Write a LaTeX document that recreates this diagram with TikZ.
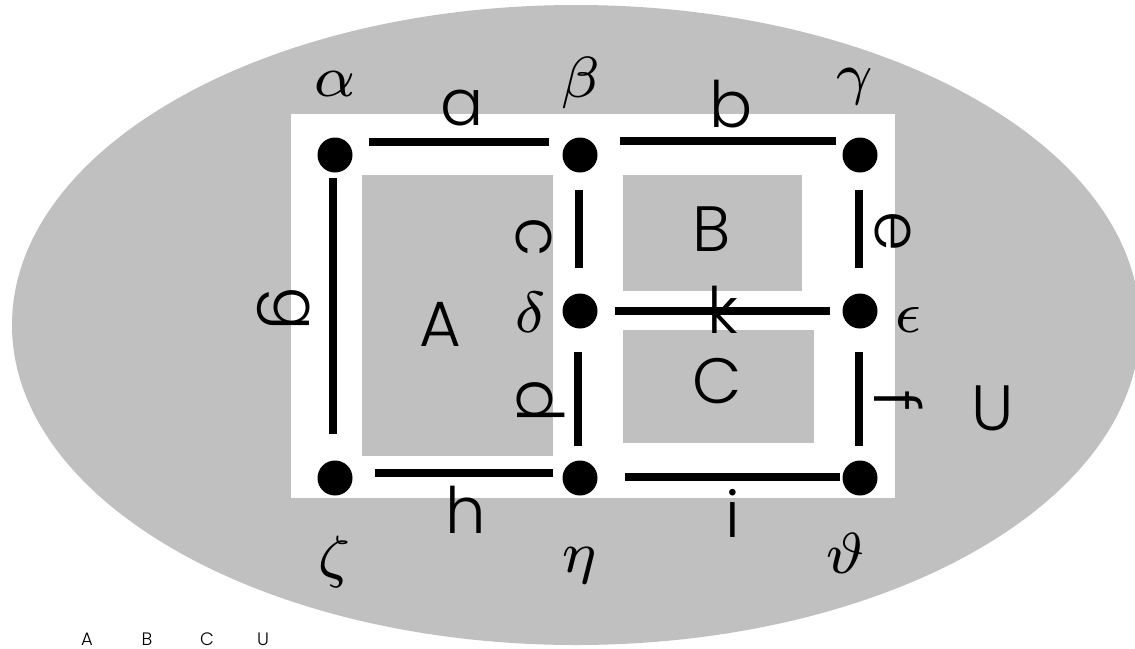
\RequirePackage{fix-cm}
\documentclass[tikz,border=0pt]{standalone}
\usepackage{fontspec}
\setmainfont{Poppins}[UprightFont=* Light]
\usepackage{xcolor}
\usepackage{tikz}
\DeclareFontShape{OML}{cmm}{m}{it}{<->cmmi7}{}
\definecolor{regiongray}{RGB}{192,192,192}
\tikzset{
  px/.style={x=1pt, y=-1pt},
  v dot/.style={circle, fill=black, inner sep=0pt, minimum size=35pt},
  v edge/.style={line width=7.5pt},
  v lbl/.style={inner sep=0pt, font=\fontsize{64}{70}\selectfont},
  v side/.style={v lbl, rotate=-90},
  v greek/.style={inner sep=0pt, font=\fontsize{58}{62}\selectfont},
  v face/.style={fill=regiongray},
  v key/.style={inner sep=0pt, font=\fontsize{18}{20}\selectfont},
}

\begin{document}
\begin{tikzpicture}[px]
\useasboundingbox (0,0) rectangle (1135,648);
% ---- outer region U ----
\fill[regiongray] (576,325) ellipse [x radius=564, y radius=320];
\fill[white] (291,114) rectangle (895,498);
% ---- faces ----
\fill[v face] (362,175) rectangle (553,456);
\fill[v face] (623,175) rectangle (802,291);
\fill[v face] (623,330) rectangle (814,443);
\node[v lbl] (fA) at (440,324) {A};
\node[v lbl] (fB) at (712,229) {B};
\node[v lbl] (fC) at (717,381) {C};
\node[v lbl] (fU) at (993,408) {U};
% ---- vertices ----
\node[v dot] (alpha) at (335,155) {};
\node[v dot] (beta) at (580,155) {};
\node[v dot] (gamma) at (860,155) {};
\node[v dot] (delta) at (580,311) {};
\node[v dot] (epsilon) at (860,311) {};
\node[v dot] (zeta) at (335,478) {};
\node[v dot] (eta) at (580,478) {};
\node[v dot] (theta) at (860,478) {};
\node[v greek] (nalpha) at (335,84) {$\alpha$};
\node[v greek] (nbeta) at (581,83) {$\beta$};
\node[v greek] (ngamma) at (855,87) {$\gamma$};
\node[v greek] (ndelta) at (531,312) {$\delta$};
\node[v greek] (nepsilon) at (908,320) {$\epsilon$};
\node[v greek] (nzeta) at (334,562) {$\zeta$};
\node[v greek] (neta) at (580,566) {$\eta$};
\node[v greek] (ntheta) at (845,553) {$\vartheta$};
% ---- edges ----
\draw[v edge, shorten <=34pt, shorten >=31pt] ([yshift=13pt]alpha.center) -- ([yshift=13pt]beta.center);
\draw[v edge, shorten <=40pt, shorten >=24pt] ([yshift=14pt]beta.center) -- ([yshift=14pt]gamma.center);
\draw[v edge, shorten <=23pt, shorten >=44pt] ([xshift=-2pt]alpha.center) -- ([xshift=-2pt]zeta.center);
\draw[v edge, shorten <=35pt, shorten >=43pt] ([xshift=-1pt]beta.center) -- ([xshift=-1pt]delta.center);
\draw[v edge, shorten <=35pt, shorten >=43pt] ([xshift=-1pt]gamma.center) -- ([xshift=-1pt]epsilon.center);
\draw[v edge, shorten <=35pt, shorten >=30pt] (delta.center) -- (epsilon.center);
\draw[v edge, shorten <=41pt, shorten >=32pt] ([xshift=-2pt]delta.center) -- ([xshift=-2pt]eta.center);
\draw[v edge, shorten <=41pt, shorten >=32pt] ([xshift=-1pt]epsilon.center) -- ([xshift=-1pt]theta.center);
\draw[v edge, shorten <=40pt, shorten >=27pt] ([yshift=5pt]zeta.center) -- ([yshift=5pt]eta.center);
\draw[v edge, shorten <=45pt, shorten >=20pt] ([yshift=1pt]eta.center) -- ([yshift=1pt]theta.center);
\node[v lbl] (ea) at (462,108) {a};
\node[v lbl] (eb) at (731,104) {b};
\node[v side] (eg) at (284,309) {g};
\node[v side] (ec) at (534,237) {c};
\node[v side] (ee) at (893,231) {e};
\node[v lbl] (ek) at (723,310) {k};
\node[v side] (ed) at (541,401) {d};
\node[v side] (ef) at (899,401) {f};
\node[v lbl] (eh) at (466,510) {h};
\node[v lbl] (ei) at (733,513) {i};
% ---- key ----
\foreach \t/\x in {A/87,B/147,C/207,U/263} \node[v key] (k\t) at (\x,639) {\t};
\end{tikzpicture}
\end{document}
